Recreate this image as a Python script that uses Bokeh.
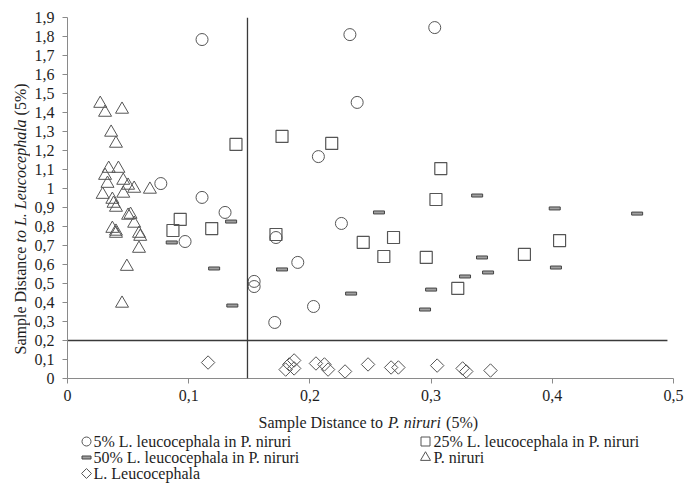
import math
from bokeh.plotting import figure
from bokeh.models import Range1d, FixedTicker, Span
from bokeh.layouts import column, row
from bokeh.core.properties import value
from bokeh.embed import file_html
from bokeh.resources import INLINE

# ---------------- data ----------------
x_ticks = [0, 0.1, 0.2, 0.3, 0.4, 0.5]
x_tick_labels = ["0", "0,1", "0,2", "0,3", "0,4", "0,5"]
y_ticks = [0, 0.1, 0.2, 0.3, 0.4, 0.5, 0.6, 0.7, 0.8, 0.9, 1.0,
           1.1, 1.2, 1.3, 1.4, 1.5, 1.6, 1.7, 1.8, 1.9]
y_tick_labels = ["0", "0,1", "0,2", "0,3", "0,4", "0,5", "0,6", "0,7", "0,8", "0,9", "1",
                 "1,1", "1,2", "1,3", "1,4", "1,5", "1,6", "1,7", "1,8", "1,9"]

p5_x = [0.111, 0.233, 0.303, 0.239, 0.207, 0.077, 0.111, 0.130, 0.097, 0.172, 0.226, 0.190, 0.154, 0.154, 0.203, 0.171]
p5_y = [1.784, 1.810, 1.847, 1.453, 1.168, 1.026, 0.953, 0.874, 0.721, 0.742, 0.816, 0.611, 0.511, 0.484, 0.379, 0.295]

p25_x = [0.139, 0.177, 0.218, 0.308, 0.304, 0.087, 0.093, 0.119, 0.172, 0.244, 0.269, 0.261, 0.296, 0.322, 0.406, 0.377]
p25_y = [1.232, 1.274, 1.237, 1.105, 0.942, 0.779, 0.837, 0.789, 0.758, 0.716, 0.742, 0.642, 0.637, 0.474, 0.726, 0.653]

p50_x = [0.338, 0.402, 0.470, 0.257, 0.135, 0.086, 0.121, 0.136, 0.177, 0.234, 0.300, 0.295, 0.342, 0.347, 0.328, 0.403]
p50_y = [0.963, 0.895, 0.868, 0.874, 0.826, 0.716, 0.579, 0.384, 0.574, 0.447, 0.468, 0.363, 0.637, 0.558, 0.537, 0.584]

pn_x = [0.027, 0.031, 0.045, 0.036, 0.040, 0.034, 0.042, 0.031, 0.033, 0.046, 0.050, 0.055, 0.068,
        0.029, 0.037, 0.046, 0.038, 0.040, 0.050, 0.052, 0.055, 0.037, 0.040, 0.040, 0.059, 0.060,
        0.059, 0.049, 0.045]
pn_y = [1.447, 1.400, 1.416, 1.295, 1.237, 1.105, 1.105, 1.068, 1.026, 1.042, 1.016, 1.000, 0.995,
        0.968, 0.942, 0.974, 0.921, 0.900, 0.858, 0.863, 0.816, 0.789, 0.774, 0.763, 0.763, 0.747,
        0.684, 0.589, 0.395]

ll_x = [0.116, 0.180, 0.183, 0.187, 0.187, 0.205, 0.212, 0.215, 0.229, 0.248, 0.267, 0.273, 0.305, 0.326, 0.329, 0.349]
ll_y = [0.084, 0.047, 0.074, 0.095, 0.053, 0.079, 0.074, 0.047, 0.037, 0.074, 0.058, 0.058, 0.068, 0.053, 0.037, 0.042]

vline_x = 0.1485
hline_x = [0.0, 0.495]
hline_y = [0.2, 0.2]

x_title_parts = ["Sample Distance to", "P. niruri", "(5%)"]
y_title_parts = ["Sample Distance", "to L. Leucocephala", "(5%)"]
legend_labels = ["5% L. leucocephala in P. niruri",
                 "25% L. leucocephala in P. niruri",
                 "50% L. leucocephala in P. niruri",
                 "P. niruri",
                 "L. Leucocephala"]

# ---------------- layout constants ----------------
W, H = 685, 486
LEFT_W = 30          # strip holding the rotated y title
MAIN_H = 410         # main plot height (frame 17..378 + x tick labels)
F_TOP, F_BOT = 17, 378
FONT = "Liberation Serif"
FS = 16.0
TXT = "#1e1e1e"
AXC = "#8a8a8a"
MK = "#555555"
STYLES = ["normal", "italic", "normal"]

# ---------------- main figure ----------------
p = figure(width=W - LEFT_W, height=MAIN_H, output_backend="svg", toolbar_location=None,
           x_range=Range1d(0, 0.5), y_range=Range1d(0, 1.9),
           min_border_left=37, min_border_right=12, min_border_top=F_TOP,
           min_border_bottom=MAIN_H - F_BOT)
p.outline_line_color = None
p.grid.visible = False

p.xaxis.ticker = FixedTicker(ticks=x_ticks)
p.yaxis.ticker = FixedTicker(ticks=y_ticks)
p.xaxis.major_label_overrides = dict(zip(x_ticks, x_tick_labels))
p.yaxis.major_label_overrides = dict(zip(y_ticks, y_tick_labels))
for ax in (p.xaxis, p.yaxis):
    ax.axis_line_color = AXC
    ax.major_tick_line_color = AXC
    ax.minor_tick_line_color = None
    ax.major_tick_in = 0
    ax.major_tick_out = 5
    ax.major_label_text_font = FONT
    ax.major_label_text_font_size = "16px"
    ax.major_label_text_color = TXT
p.xaxis.major_label_standoff = 6
p.yaxis.major_label_standoff = 8

p.add_layout(Span(location=vline_x, dimension="height", line_color="#3a3a3a", line_width=1.3))
p.line(hline_x, hline_y, line_color="#3a3a3a", line_width=1.3)

p.scatter(p5_x, p5_y, marker="circle", size=12, fill_color=None, line_color=MK, line_width=1)
p.scatter(p25_x, p25_y, marker="square", size=12, fill_color=None, line_color=MK, line_width=1.2)
p.rect(p50_x, p50_y, width=11, height=3, width_units="screen", height_units="screen",
       fill_color="#a0a0a0", line_color="#444444", line_width=1)
p.scatter(pn_x, pn_y, marker="triangle", size=13, fill_color=None, line_color=MK, line_width=1)
p.scatter(ll_x, ll_y, marker="square", angle=math.pi / 4, size=9.5, fill_color=None,
          line_color=MK, line_width=1)


def blank(width, height, top=0, bottom=0):
    # frame spans canvas rows top..height-bottom; data y == canvas distance from the figure bottom
    f = figure(width=width, height=height, output_backend="svg", toolbar_location=None,
               x_range=Range1d(0, width), y_range=Range1d(bottom, height - top),
               x_axis_type=None, y_axis_type=None,
               min_border_left=0, min_border_right=0,
               min_border_top=top, min_border_bottom=bottom)
    f.outline_line_color = None
    f.grid.visible = False
    return f


# ---------------- left strip: rotated y title ----------------
yl = blank(LEFT_W, MAIN_H, top=F_TOP, bottom=MAIN_H - F_BOT)
y_bottom_px = 354.0
y_len = [6.749, 7.694, 2.0]
gap = 0.25
starts = [0.0, y_len[0] + gap, y_len[0] + gap + y_len[1] + gap]
for t, s0, ln, st in zip(y_title_parts, starts, y_len, STYLES):
    cpx = y_bottom_px - (s0 + ln / 2) * FS          # canvas y (from top)
    yl.text(x=[20], y=[MAIN_H - cpx], text=[t], angle=math.pi / 2, text_font=value(FONT),
            text_font_size="16px", text_color=TXT, text_font_style=st,
            text_align="center", text_baseline="middle")

# ---------------- bottom strip: x title + legend ----------------
BH = H - MAIN_H
bt = blank(W, BH)
x_left_px = 258.0
x_len = [7.777, 3.445, 2.0]
xs = [0.0, x_len[0] + gap, x_len[0] + gap + x_len[1] + gap]
for t, s0, ln, st in zip(x_title_parts, xs, x_len, STYLES):
    bt.text(x=[x_left_px + (s0 + ln / 2) * FS], y=[H - 422], text=[t], text_font=value(FONT),
            text_font_size="16px", text_color=TXT, text_font_style=st,
            text_align="center", text_baseline="middle")

leg_mx = [86, 425, 86, 425, 86]
leg_tx = [93, 433, 93, 433, 93]
leg_py = [441, 441, 457, 457, 473]
leg_y = [H - v for v in leg_py]
bt.text(x=leg_tx, y=leg_y, text=legend_labels, text_font=value(FONT),
        text_font_size="16px", text_color=TXT, text_align="left", text_baseline="middle")
bt.scatter([leg_mx[0]], [leg_y[0]], marker="circle", size=9, fill_color=None, line_color=MK)
bt.scatter([leg_mx[1]], [leg_y[1]], marker="square", size=9, fill_color=None, line_color=MK)
bt.rect([leg_mx[2]], [leg_y[2]], width=9, height=3, fill_color="#a0a0a0", line_color="#444444")
bt.scatter([leg_mx[3]], [leg_y[3]], marker="triangle", size=10, fill_color=None, line_color=MK)
bt.scatter([leg_mx[4]], [leg_y[4]], marker="square", angle=math.pi / 4, size=7,
           fill_color=None, line_color=MK)

layout = column(row(yl, p, spacing=0), bt, spacing=0)
open("out.html", "w").write(file_html(layout, INLINE))
